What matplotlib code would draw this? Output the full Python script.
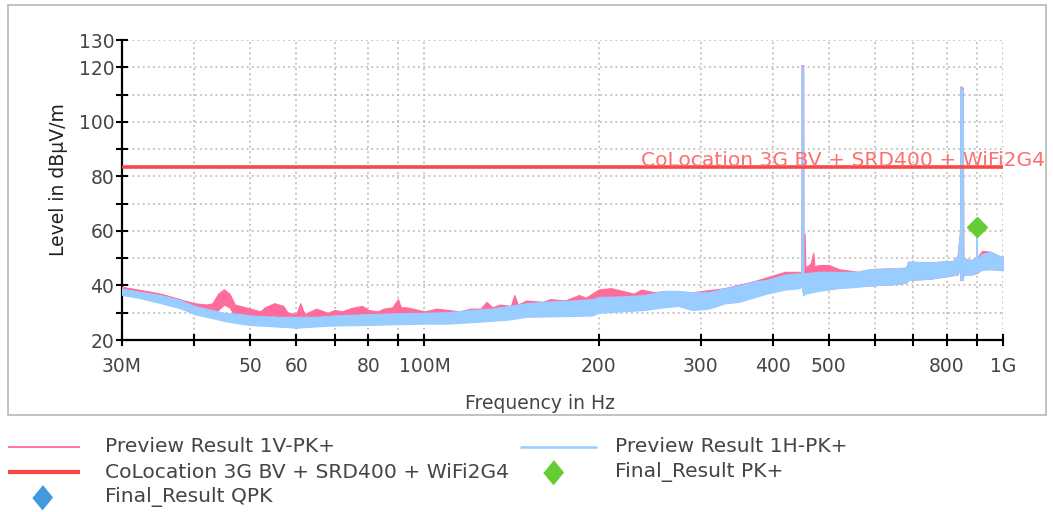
import matplotlib
matplotlib.use("Agg")
import matplotlib.pyplot as plt
from matplotlib.lines import Line2D
from matplotlib.patches import Rectangle
from matplotlib.ticker import FixedLocator, FixedFormatter, NullLocator

# ---------------- data (MHz, dBuV/m) ----------------
v_freq = [30, 32, 35, 38, 40, 42, 43, 44, 45, 46, 47, 50, 52, 53, 55, 57, 58, 60, 61, 62,
          65, 68, 70, 72, 75, 78, 80, 83, 85, 88, 90, 91, 93, 100, 105, 110, 115, 120, 125,
          128, 131, 135, 141, 143, 145, 150, 160, 165, 175, 185, 190, 200, 210, 220, 230,
          237, 250, 260, 290, 330, 370, 420, 445, 448.0, 448.6, 451.4, 452.0, 453, 454,
          455.5, 458, 465, 470, 472, 480, 500, 520, 560, 590, 650, 680, 685, 750, 820, 835,
          843, 844, 852, 854, 880, 900, 920, 950, 980, 1000]
v_lo = [37, 36, 34, 32, 30, 30, 29.5, 31, 33, 32, 29, 28.5, 28.5, 28.5, 29, 28, 28, 27.5,
        28, 27.5, 28, 28, 28, 28, 28.5, 28.5, 28, 28, 28.5, 28.5, 29, 29, 28.5, 28, 28, 28,
        28, 28.5, 28.5, 29, 29, 29.5, 30, 30, 30, 31, 31, 31, 31.5, 31.5, 32, 33, 33, 33,
        33, 33, 33, 33, 32, 34, 36, 39, 39.5, 40, 40, 37, 37, 40, 40, 40, 42, 42, 43, 43,
        42, 42, 41, 40, 40, 40.5, 41, 42, 42.5, 43.8, 44, 47, 42, 42, 44, 44, 44.5, 46, 46,
        45.8, 45.7]
v_hi = [39.5, 38.5, 37, 34.8, 33.5, 33, 33.5, 37, 38.6, 37, 33, 31.5, 30.5, 32, 33.5, 32.5,
        30, 29.5, 33.5, 29.5, 31.5, 30, 31, 30.5, 31.8, 32.5, 31, 30.5, 31.5, 32, 35, 32,
        32, 30.5, 31.5, 31, 30.5, 31.5, 31.5, 34, 32, 33, 32.5, 36.5, 33, 34.5, 34, 35,
        34.5, 36.5, 35.5, 38.5, 39, 38, 37, 38.5, 37.5, 38, 37.5, 39, 41.5, 45, 45, 44,
        120.8, 120.8, 44, 46, 59, 46, 47, 48, 52, 47, 47.5, 47.5, 46, 45, 46, 46.3, 46.5,
        48.7, 48.5, 49, 51, 60, 113, 112.5, 50, 49.3, 50, 52.7, 52.4, 51, 50.5]

h_freq = [30, 32, 35, 38, 40, 43, 45, 48, 50, 55, 60, 65, 70, 80, 90, 100, 110, 120, 130,
          140, 150, 160, 180, 195, 200, 220, 240, 260, 275, 290, 310, 330, 350, 370, 390,
          420, 445, 448.0, 448.6, 451.4, 452.0, 455, 480, 520, 560, 590, 650, 680, 685, 750,
          820, 835, 843, 844, 852, 854, 880, 898, 898.6, 901.4, 902, 920, 950, 980, 1000]
h_lo = [36.5, 35.5, 33.5, 31.5, 29.5, 28, 27, 26, 25.5, 25, 24.5, 25, 25.3, 25.5, 25.8, 26,
        26, 26.5, 27, 27.5, 28.5, 28.6, 28.8, 29, 30, 30.5, 31, 32, 32.5, 31, 31.5, 33.4,
        34, 35.5, 37, 38.5, 39, 40, 40, 36.5, 36.5, 37, 38, 39, 39.5, 40, 40.5, 41, 42,
        42.5, 43.8, 44, 47, 42, 42, 44, 44, 44.5, 44.5, 45, 45, 45.7, 46, 45.8, 45.7]
h_hi = [38.8, 37.8, 36.5, 34.5, 32.5, 31, 30, 29.5, 29, 28.5, 28.5, 28.5, 29, 29.5, 29.8,
        30, 30.2, 31, 31.5, 32.5, 33.5, 34, 34.5, 35, 35.8, 36, 36.5, 38, 38, 37.5, 37.5,
        39, 40, 41.5, 42, 44, 44.5, 44, 120.5, 120.5, 44, 44.5, 45, 45, 45, 46, 46.3, 46.5,
        48.7, 48.5, 49, 51, 60, 112.7, 112, 50, 49.3, 50, 58, 58, 50, 51.5, 52.4, 51, 50.5]

limit_freq = [30, 1000]
limit_level = [83.3, 83.3]
limit_name = "CoLocation 3G BV + SRD400 + WiFi2G4"

pk_freq = [900]
pk_level = [61.5]
qpk_freq = []
qpk_level = []

x_ticks = [30, 40, 50, 60, 70, 80, 90, 100, 200, 300, 400, 500, 600, 700, 800, 900, 1000]
x_labels = ["30M", "", "50", "60", "", "80", "", "100M", "200", "300", "400", "500", "",
            "", "800", "", "1G"]
y_ticks = [20, 30, 40, 50, 60, 70, 80, 90, 100, 110, 120, 130]
y_labels = ["20", "", "40", "", "60", "", "80", "", "100", "", "120", "130"]

# ---------------- styling ----------------
PINK = "#ff6b9a"
BLUE = "#99ccff"
RED = "#f54848"
GREEN = "#66cc33"
QBLUE = "#4499dd"
TXT = "#454545"
FS = 13.5
FS_BIG = 14.6

plt.rcParams['font.family'] = ['DejaVu Sans']

W, H = 1053, 512
fig = plt.figure(figsize=(W / 100, H / 100), dpi=100)

def fx(px):
    return px / W

def fy(py):
    return 1 - py / H

# outer frame
fig.patches.append(Rectangle((fx(8), fy(415)), fx(1046) - fx(8), fy(5) - fy(415),
                             transform=fig.transFigure, fill=False, edgecolor="#b8b8b8",
                             linewidth=1.2, zorder=0))

ax = fig.add_axes([fx(122), fy(340), fx(1003) - fx(122), fy(40) - fy(340)])
ax.set_xscale("log")
ax.set_xlim(30, 1000)
ax.set_ylim(20, 130)

ax.fill_between(v_freq, v_lo, v_hi, color=PINK, linewidth=0.8, edgecolor=PINK, zorder=3)
ax.fill_between(h_freq, h_lo, h_hi, color=BLUE, linewidth=0.8, edgecolor=BLUE, zorder=4)
ax.plot(limit_freq, limit_level, color=RED, linewidth=2.6, zorder=5, solid_capstyle="butt")
ax.plot(pk_freq, pk_level, linestyle="none", marker="D", markersize=10.5, color=GREEN, zorder=6)
ax.plot(qpk_freq, qpk_level, linestyle="none", marker="D", markersize=10.5, color=QBLUE, zorder=6)

ax.text(1.0475, limit_level[0] + 0.6, limit_name, transform=ax.get_yaxis_transform(),
        ha="right", va="baseline", color="#ff6f6f", fontsize=FS_BIG, zorder=7, clip_on=False)

ax.xaxis.set_major_locator(FixedLocator(x_ticks))
ax.xaxis.set_major_formatter(FixedFormatter(x_labels))
ax.xaxis.set_minor_locator(NullLocator())
ax.yaxis.set_major_locator(FixedLocator(y_ticks))
ax.yaxis.set_major_formatter(FixedFormatter(y_labels))

ax.grid(True, which="major", color="#b5b5b5", linestyle=(0, (1.2, 2.2)), linewidth=1.1)
ax.set_axisbelow(True)
for s in ("top", "right"):
    ax.spines[s].set_visible(False)
for s in ("left", "bottom"):
    ax.spines[s].set_linewidth(1.6)
    ax.spines[s].set_color("black")

ax.tick_params(axis="both", direction="inout", length=9, width=1.5, color="black",
               labelsize=FS, labelcolor=TXT)
ax.tick_params(axis="x", pad=8)
ax.tick_params(axis="y", pad=1)

ax.set_xlabel("Frequency in Hz", fontsize=FS, color=TXT, labelpad=13,
              x=(540 - 122) / 881)
ax.set_ylabel("Level in dBμV/m", fontsize=FS, color="#202020", labelpad=8,
              y=(340 - 180) / 300)

# ---------------- legend (manual) ----------------
def leg_line(x0, x1, y, color, lw):
    fig.lines.append(Line2D([fx(x0), fx(x1)], [fy(y), fy(y)], transform=fig.transFigure,
                            color=color, linewidth=lw, solid_capstyle="butt"))

diamond = [(0, 1), (0.82, 0), (0, -1), (-0.82, 0)]

def leg_marker(x, y, color):
    fig.lines.append(Line2D([fx(x)], [fy(y)], transform=fig.transFigure, linestyle="none",
                            marker=diamond, markersize=17, color=color))

def leg_text(x, y, s):
    fig.text(fx(x), fy(y), s, ha="left", va="center", fontsize=FS_BIG, color=TXT)

leg_line(8, 80, 447, PINK, 1.3)
leg_text(105, 447, "Preview Result 1V-PK+")
leg_line(520, 597, 447, BLUE, 1.8)
leg_text(615, 447, "Preview Result 1H-PK+")
leg_line(8, 80, 472, RED, 3.0)
leg_text(105, 472, limit_name)
leg_marker(553, 472, GREEN)
leg_text(615, 472, "Final_Result PK+")
leg_marker(42, 497, QBLUE)
leg_text(105, 497, "Final_Result QPK")

fig.savefig("out.png", dpi=100)
